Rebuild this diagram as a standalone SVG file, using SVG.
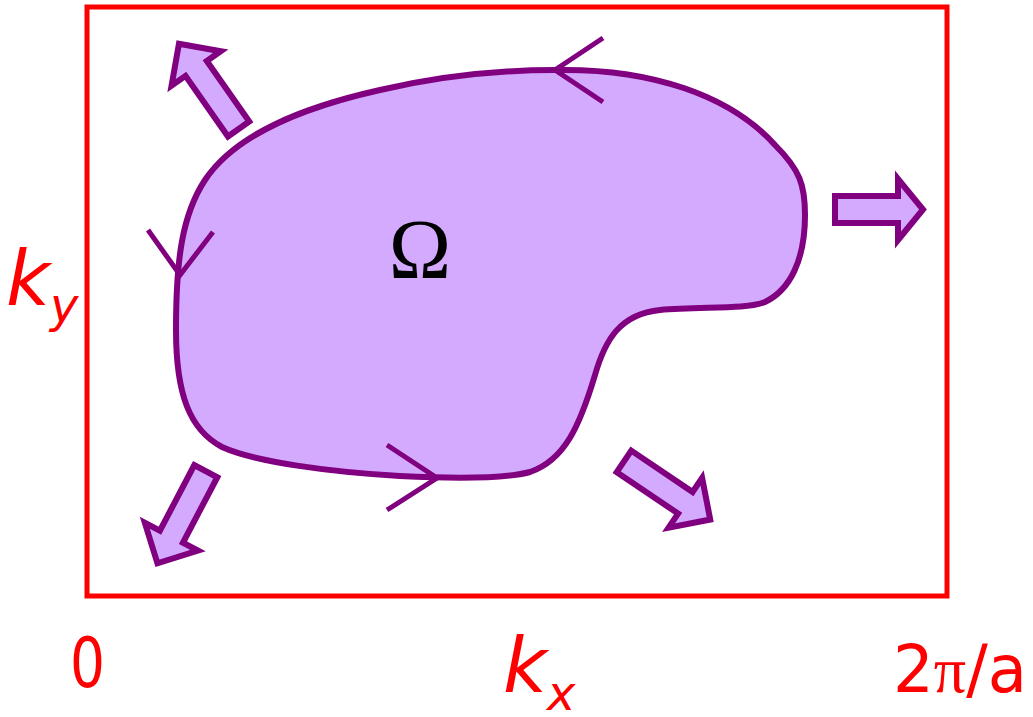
<svg xmlns="http://www.w3.org/2000/svg" width="1033" height="717" viewBox="0 0 1033 717">
<style>
.frame{fill:none;stroke:#ff0000;stroke-width:5}
.blob{fill:#d4aaff;stroke:#800080;stroke-width:6}
.barrow{fill:#d4aaff;stroke:#800080;stroke-width:6;stroke-linejoin:miter}
.chev{fill:none;stroke:#800080;stroke-width:5}
.lbl{fill:#ff0000;font-family:"DejaVu Sans","Liberation Sans",sans-serif}
.it{font-style:italic}
</style>
<defs>
<polygon id="ba" points="0,-13 74,-13 74,-30 104,0 74,30 74,13 0,13"/>
</defs>
<rect id="frame" class="frame" x="87" y="7" width="860" height="589"/>
<g id="region">
<path class="blob" d="M 555 70 C 650 68, 730 95, 775 145 C 800 170, 805 185, 805 215 C 805 260, 790 290, 765 302 C 745 310, 700 306, 660 310 C 620 314, 605 340, 595 375 C 580 425, 565 460, 530 472 C 500 480, 440 478, 400 476 C 330 472, 255 462, 222 447 C 190 430, 176 395, 176 330 C 176 260, 182 215, 205 180 C 235 135, 300 108, 380 90 C 440 76, 500 70, 555 70 Z"/>
<text x="420" y="278" text-anchor="middle" font-family="'Liberation Serif',serif" font-size="84" fill="#000">Ω</text>
</g>
<g id="orientation">
<polyline class="chev" points="603,38 555,70 603,102"/>
<polyline class="chev" points="148,230 180,275 213,232"/>
<polyline class="chev" points="387,445 437,478 387,510"/>
</g>
<g id="flow-arrows">
<use href="#ba" class="barrow" transform="translate(238.6,129) rotate(-125)"/>
<use href="#ba" class="barrow" transform="translate(205.8,471.2) rotate(117.7)"/>
<use href="#ba" class="barrow" transform="translate(624,461.4) rotate(34)"/>
<polygon class="barrow" points="835,196 898,196 898,179 923,209.5 898,240 898,223 835,223"/>
</g>
<g id="labels">
<text class="lbl" x="70" y="687" font-size="70" textLength="35" lengthAdjust="spacingAndGlyphs">0</text>
<text class="lbl" x="893" y="692" font-size="66" textLength="134" lengthAdjust="spacingAndGlyphs">2<tspan font-family="'Liberation Serif',serif">π</tspan>/a</text>
<text class="lbl it" x="503" y="692" font-size="76">k<tspan font-size="48" dy="18">x</tspan></text>
<text class="lbl it" x="6" y="305" font-size="76">k<tspan font-size="48" dy="17">y</tspan></text>
</g>
</svg>
